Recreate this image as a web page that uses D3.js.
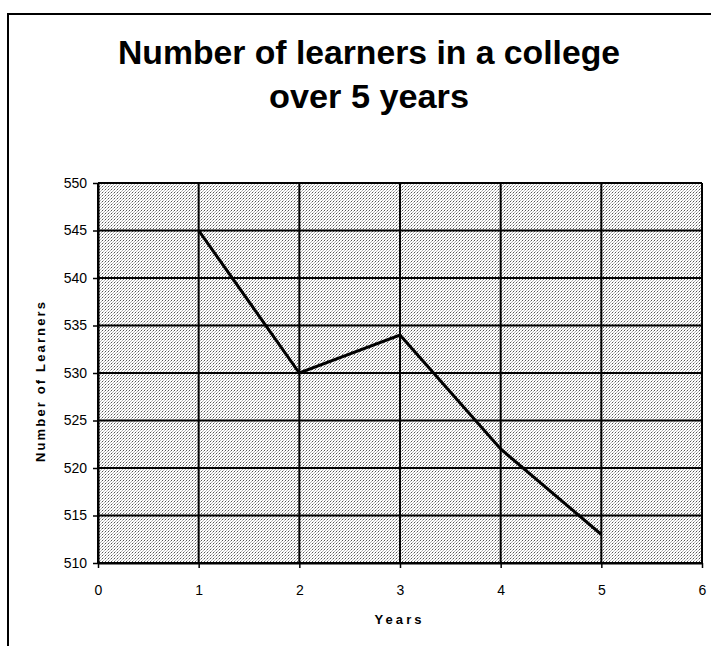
<!DOCTYPE html>
<html>
<head>
<meta charset="utf-8">
<title>Number of learners in a college over 5 years</title>
<style>
  body { margin: 0; background: #fff; }
  svg { display: block; }
  text { font-family: "Liberation Sans", Arial, sans-serif; fill: #000; }
</style>
</head>
<body>
<div id="chart"></div>
<script src="https://d3js.org/d3.v7.min.js"></script>
<script>
// chart data
const years = [1, 2, 3, 4, 5];
const learners = [545, 530, 534, 522, 513];
const xTicks = [0, 1, 2, 3, 4, 5, 6];
const yTicks = [510, 515, 520, 525, 530, 535, 540, 545, 550];
const titleLines = ["Number of learners in a college", "over 5 years"];

const width = 711, height = 646;
const plot = { left: 98, right: 702, top: 183, bottom: 563 };

const svg = d3.select("#chart").append("svg")
  .attr("width", width)
  .attr("height", height);

// stippled grey fill of the plot area
const defs = svg.append("defs");
const pat = defs.append("pattern")
  .attr("id", "stipple")
  .attr("patternUnits", "userSpaceOnUse")
  .attr("width", 3).attr("height", 3);
pat.append("rect").attr("width", 3).attr("height", 3).attr("fill", "#fff");
pat.append("rect").attr("x", 0).attr("y", 0).attr("width", 1).attr("height", 1).attr("fill", "#555");
pat.append("rect").attr("x", 1).attr("y", 2).attr("width", 1).attr("height", 1).attr("fill", "#b4b4b4");
pat.append("rect").attr("x", 2).attr("y", 1).attr("width", 1).attr("height", 1).attr("fill", "#b4b4b4");

// outer frame (runs off the right and bottom edges)
svg.append("rect")
  .attr("x", 8).attr("y", 14)
  .attr("width", 720).attr("height", 660)
  .attr("fill", "none")
  .attr("stroke", "#000")
  .attr("stroke-width", 2);

const x = d3.scaleLinear().domain([0, 6]).range([plot.left, plot.right]);
const y = d3.scaleLinear().domain([510, 550]).range([plot.bottom, plot.top]);

svg.append("rect")
  .attr("x", plot.left).attr("y", plot.top)
  .attr("width", plot.right - plot.left)
  .attr("height", plot.bottom - plot.top)
  .attr("fill", "url(#stipple)");

// grid lines
svg.append("g").selectAll("line")
  .data(yTicks).enter().append("line")
  .attr("x1", plot.left).attr("x2", plot.right)
  .attr("y1", d => y(d)).attr("y2", d => y(d))
  .attr("stroke", "#000").attr("stroke-width", 2);

svg.append("g").selectAll("line")
  .data(xTicks).enter().append("line")
  .attr("y1", plot.top).attr("y2", plot.bottom)
  .attr("x1", d => x(d)).attr("x2", d => x(d))
  .attr("stroke", "#000").attr("stroke-width", 2);

// axes
const fmt = d3.format("d");
const yAxis = svg.append("g")
  .attr("transform", "translate(" + plot.left + ",0)")
  .call(d3.axisLeft(y).tickValues(yTicks).tickFormat(fmt)
    .tickSizeInner(5).tickSizeOuter(0).tickPadding(6));
const xAxis = svg.append("g")
  .attr("transform", "translate(0," + plot.bottom + ")")
  .call(d3.axisBottom(x).tickValues(xTicks).tickFormat(fmt)
    .tickSizeInner(5).tickSizeOuter(0).tickPadding(17));

[yAxis, xAxis].forEach(a => {
  a.select(".domain").attr("stroke", "#000").attr("stroke-width", 2);
  a.selectAll(".tick line").attr("stroke", "#000").attr("stroke-width", 1.5);
  a.selectAll("text")
    .style("font-family", "'Liberation Sans', Arial, sans-serif")
    .style("font-size", "14px")
    .attr("fill", "#000");
});

// data line
const line = d3.line()
  .x((d, i) => x(years[i]))
  .y(d => y(d));

svg.append("path")
  .datum(learners)
  .attr("d", line)
  .attr("fill", "none")
  .attr("stroke", "#000")
  .attr("stroke-width", 3)
  .attr("stroke-linejoin", "miter");

// title
svg.append("text")
  .attr("x", 369).attr("y", 64)
  .attr("text-anchor", "middle")
  .style("font-size", "33px").style("font-weight", "bold")
  .attr("textLength", 502)
  .attr("lengthAdjust", "spacingAndGlyphs")
  .text(titleLines[0]);
svg.append("text")
  .attr("x", 369).attr("y", 108)
  .attr("text-anchor", "middle")
  .style("font-size", "33px").style("font-weight", "bold")
  .attr("textLength", 200)
  .attr("lengthAdjust", "spacingAndGlyphs")
  .text(titleLines[1]);

// axis titles
svg.append("text")
  .attr("transform", "translate(45,382) rotate(-90)")
  .attr("text-anchor", "middle")
  .style("font-size", "13px").style("font-weight", "bold")
  .attr("textLength", 160)
  .text("Number of Learners");

svg.append("text")
  .attr("x", 398).attr("y", 624)
  .attr("text-anchor", "middle")
  .style("font-size", "13px").style("font-weight", "bold")
  .attr("textLength", 47)
  .text("Years");
</script>
</body>
</html>
